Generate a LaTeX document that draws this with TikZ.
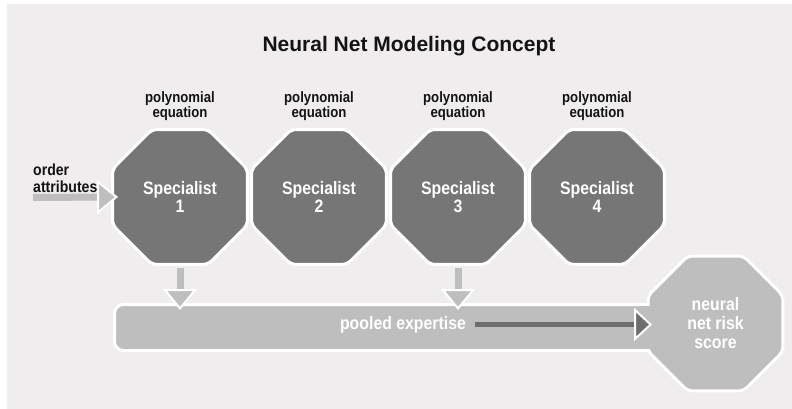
\documentclass[tikz,border=0pt]{standalone}
\usepackage{fontspec}
\setmainfont{Liberation Sans}
\newfontfamily\condfont[FakeStretch=0.88]{Liberation Sans}
\usetikzlibrary{shapes.geometric,arrows.meta,positioning}
\definecolor{panel}{HTML}{EFEDEE}
\definecolor{octdark}{HTML}{767676}
\definecolor{barlight}{HTML}{BFBEBF}
\definecolor{arrowdark}{HTML}{6E6E6E}
\definecolor{ink}{HTML}{141414}
\begin{document}
\begin{tikzpicture}[x=1pt, y=-1pt, node distance=139pt,
    oct/.style={regular polygon, regular polygon sides=8, minimum size=146pt,
      inner sep=0pt, rounded corners=5pt, draw=white, line width=3pt,
      text=white, align=center, font=\condfont\bfseries\fontsize{18}{18}\selectfont},
    main node/.style={oct, fill=octdark},
    score node/.style={oct, fill=barlight, font=\condfont\bfseries\fontsize{18}{19}\selectfont},
    bar node/.style={rectangle, rounded corners=9pt, fill=barlight, draw=white, line width=3pt,
      minimum width=575pt, minimum height=46pt, inner sep=0pt},
    eq label/.style={text=ink, align=center, inner sep=0pt, font=\condfont\bfseries\fontsize{15}{15}\selectfont},
    feed/.style={draw=barlight, line width=7pt,
      -{Triangle[width=34pt, length=21pt, line width=2pt, color=white, fill=barlight]}},
    pass/.style={draw=arrowdark, line width=5pt,
      -{Triangle[width=33pt, length=18pt, line width=2pt, color=white, fill=arrowdark]}}]
  \useasboundingbox (0,0) rectangle (792,409);
  \fill[panel] (7,4) rectangle (792,409);

  \node[font=\bfseries\fontsize{21}{21}\selectfont, text=ink] (title) at (409,46.5) {Neural Net Modeling Concept};

  % pooled bar running into the score octagon
  \node[bar node] (pool) at (402,327.5) {};
  \node[score node] (score) at (715.5,323.5) {neural\\net risk\\score};
  \fill[barlight] (640,306) rectangle (660,349);
  \node[text=white, inner sep=2pt, font=\condfont\bfseries\fontsize{18}{18}\selectfont] (pooltext) at (403,324.5) {pooled expertise};

  \node[main node] (s1) at (180,197) {Specialist\\1};
  \node[main node] (s2) [right of=s1] {Specialist\\2};
  \node[main node] (s3) [right of=s2] {Specialist\\3};
  \node[main node] (s4) [right of=s3] {Specialist\\4};

  \node[eq label] (e1) [above of=s1, node distance=90.5pt] {polynomial\\equation};
  \node[eq label] (e2) [above of=s2, node distance=90.5pt] {polynomial\\equation};
  \node[eq label] (e3) [above of=s3, node distance=90.5pt] {polynomial\\equation};
  \node[eq label] (e4) [above of=s4, node distance=90.5pt] {polynomial\\equation};

  \node[eq label, align=left, anchor=west, font=\condfont\bfseries\fontsize{16}{17}\selectfont] (attr) at (33,178.5) {order\\attributes};
  \coordinate (src) at (33,197.5);

  \draw[feed, shorten >=-7pt] (src) -- (s1.west);
  \draw[feed, shorten <=2pt, shorten >=-7pt] (s1.south) -- (s1.south |- pool.north);
  \draw[feed, shorten <=2pt, shorten >=-7pt] (s3.south) -- (s3.south |- pool.north);
  \draw[pass, shorten <=7pt, shorten >=-5.5pt] (pooltext.east) -- (pooltext.east -| score.west);
\end{tikzpicture}
\end{document}
